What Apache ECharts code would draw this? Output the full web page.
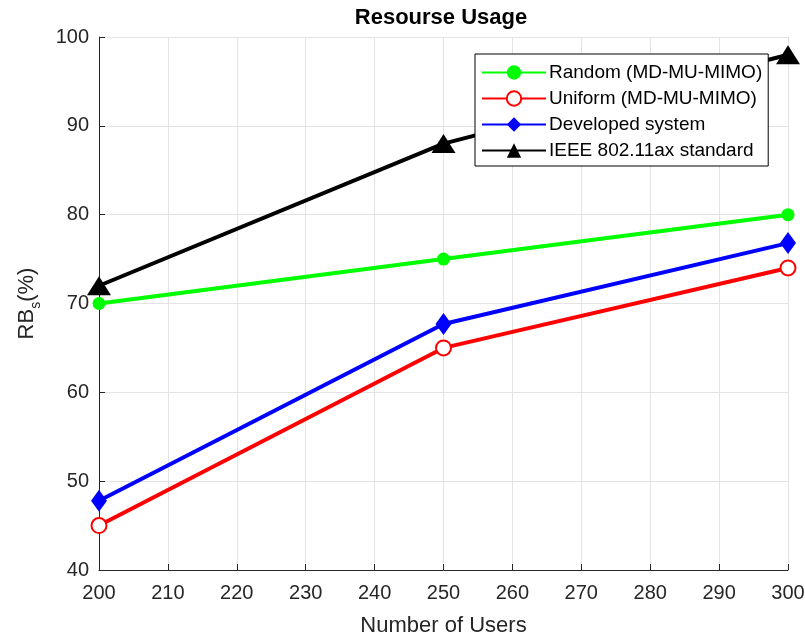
<!DOCTYPE html>
<html><head><meta charset="utf-8">
<script src="https://cdn.jsdelivr.net/npm/echarts@6/dist/echarts.min.js"></script>
<style>html,body{margin:0;padding:0;background:#fff}#c{width:805px;height:639px}</style>
</head><body><div id="c"></div>
<script>
const users = [200, 250, 300];
const randomVals = [70, 75, 80];
const uniformVals = [45, 65, 74];
const developedVals = [47.8, 67.7, 76.8];
const ieeeVals = [72, 88, 98];
const seriesNames = ['Random (MD-MU-MIMO)', 'Uniform (MD-MU-MIMO)', 'Developed system', 'IEEE 802.11ax standard'];

const font = 'Liberation Sans, Arial, sans-serif';
const pair = v => users.map((u, i) => [u, v[i]]);
function mk(name, vals, color, symbol, size, extra) {
  return Object.assign({
    name, type: 'line', data: pair(vals), symbol, symbolSize: size,
    lineStyle: { color, width: 4 },
    itemStyle: { color, borderColor: color, borderWidth: 0 },
    z: 3
  }, extra || {});
}
const chart = echarts.init(document.getElementById('c'));
chart.setOption({
  animation: false,
  backgroundColor: '#fff',
  title: { text: 'Resourse Usage', left: 441, textAlign: 'center', top: 2, padding: [5, 0, 5, 0],
    textStyle: { fontFamily: font, fontSize: 22, fontWeight: 'bold', color: '#000' } },
  grid: { left: 99, right: 17, top: 37, bottom: 69, containLabel: false, outerBoundsMode: 'none' },
  legend: {
    orient: 'vertical', left: 475, top: 54,
    backgroundColor: '#fff', borderColor: '#000', borderWidth: 1,
    padding: [9, 6, 6, 6], itemGap: 7, itemWidth: 64, itemHeight: 18,
    textStyle: { fontFamily: font, fontSize: 19, color: '#000', padding: [0, 0, 0, -2] },
    data: seriesNames
  },
  xAxis: {
    type: 'value', min: 200, max: 300, interval: 10,
    name: 'Number of Users', nameLocation: 'middle', nameGap: 45,
    nameTextStyle: { fontFamily: font, fontSize: 22, color: '#262626' },
    axisLine: { lineStyle: { color: '#262626', width: 1 } },
    axisTick: { inside: true, length: 6, lineStyle: { color: '#262626' } },
    axisLabel: { fontFamily: font, fontSize: 20, color: '#262626', margin: 13 },
    splitLine: { show: true, lineStyle: { color: '#e3e3e3', width: 1 } }
  },
  yAxis: {
    type: 'value', min: 40, max: 100, interval: 10,
    name: '{a|RB}{s|s}{a|(%)}', nameLocation: 'middle', nameGap: 56,
    nameTextStyle: { fontFamily: font, color: '#262626',
      rich: { a: { fontFamily: font, fontSize: 22, lineHeight: 32, color: '#262626' },
              s: { fontFamily: font, fontSize: 14, lineHeight: 14, verticalAlign: 'bottom', color: '#262626' } } },
    axisLine: { show: true, lineStyle: { color: '#262626', width: 1 } },
    axisTick: { show: true, inside: true, length: 6, lineStyle: { color: '#262626' } },
    axisLabel: { fontFamily: font, fontSize: 20, color: '#262626', margin: 10 },
    splitLine: { show: true, lineStyle: { color: '#e3e3e3', width: 1 } }
  },
  series: [
    mk(seriesNames[0], randomVals, '#00ff00', 'circle', 13),
    mk(seriesNames[1], uniformVals, '#ff0000', 'emptyCircle', 15, { itemStyle: { color: '#ff0000', borderColor: '#ff0000', borderWidth: 3 } }),
    mk(seriesNames[2], developedVals, '#0000ff', 'diamond', [16, 22]),
    mk(seriesNames[3], ieeeVals, '#000000', 'triangle', [24, 19])
  ]
});
</script></body></html>
